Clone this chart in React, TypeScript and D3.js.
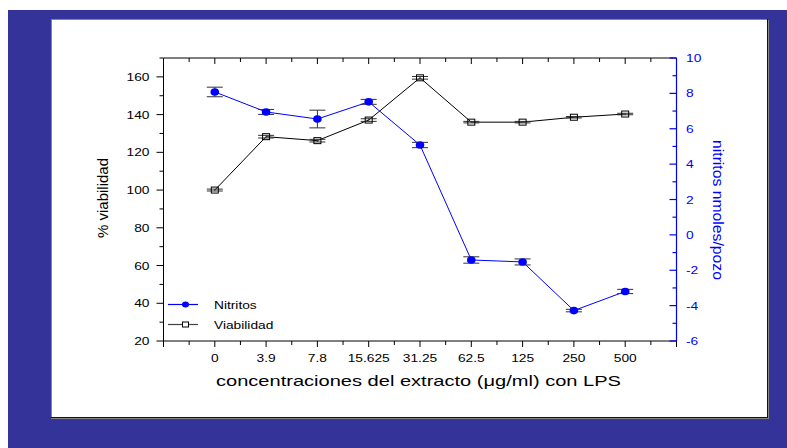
import React from "react";
import * as d3 from "d3";

// concentraciones del extracto (x categories)
const concentraciones = ["0", "3.9", "7.8", "15.625", "31.25", "62.5", "125", "250", "500"];
// % viabilidad (left axis)
const viabilidad = [100, 128.3, 126.2, 137.1, 159.5, 136, 136, 138.6, 140.3];
const viabilidadErr = [0.5, 0.7, 0.7, 0.7, 0.7, 0.4, 0.4, 0.4, 0.4];
// nitritos nmoles/pozo (right axis)
const nitritos = [8.08, 6.95, 6.55, 7.52, 5.08, -1.42, -1.53, -4.28, -3.2];
const nitritosErr = [0.27, 0.14, 0.5, 0.14, 0.15, 0.18, 0.17, 0.07, 0.12];

const leftTicks = [20, 40, 60, 80, 100, 120, 140, 160];
const rightTicks = [-6, -4, -2, 0, 2, 4, 6, 8, 10];

const BLUE = "#0000ff";
const BG = "#333399";
const FONT = "Arial, 'Liberation Sans', sans-serif";

export default function App() {
  const x = d3.scaleLinear().domain([-1, 9]).range([163.5, 676.5]);
  const yL = d3.scaleLinear().domain([20, 170]).range([341, 58]);
  const yR = d3.scaleLinear().domain([-6, 10]).range([341, 58]);
  const [x0, x1] = x.range();
  const [yb, yt] = yL.range();

  const idx = concentraciones.map((_, i) => i);
  const xTicks = d3.range(-1, 9.01, 0.5);
  const lTicks = d3.range(20, 170.01, 10);
  const rTicks = d3.range(-6, 10.01, 1);

  const lineV = d3.line<number>().x((i) => x(i)).y((i) => yL(viabilidad[i]));
  const lineN = d3.line<number>().x((i) => x(i)).y((i) => yR(nitritos[i]));

  const hText = (tx: number, ty: number, s: string, anchor: string, color = "#000", size = 11) => (
    <text
      key={s + tx + ty}
      transform={`translate(${tx},${ty}) scale(1.25,1)`}
      textAnchor={anchor}
      fontSize={size}
      fill={color}
      fontFamily={FONT}
    >
      {s}
    </text>
  );

  const errBar = (cx: number, lo: number, hi: number, k: string) => (
    <g key={k} stroke="#333" strokeWidth={1}>
      <line x1={cx} x2={cx} y1={lo} y2={hi} />
      <line x1={cx - 8} x2={cx + 8} y1={lo} y2={lo} />
      <line x1={cx - 8} x2={cx + 8} y1={hi} y2={hi} />
    </g>
  );

  return (
    <svg
      width={787}
      height={448}
      style={{ position: "absolute", left: 0, top: 0 }}
    >
      <rect x={0} y={0} width={787} height={448} fill="#fff" />
      <rect x={8} y={10} width={779} height={438} fill={BG} />
      <rect x={51} y={19} width={717} height={398} fill="#fff" />
      <line x1={51} x2={768} y1={19.5} y2={19.5} stroke="#888" />
      <line x1={51.5} x2={51.5} y1={19} y2={418} stroke="#888" />
      <line x1={767.5} x2={767.5} y1={19} y2={418} stroke="#111" />
      <line x1={51} x2={768} y1={417.5} y2={417.5} stroke="#111" />
      <line x1={51} x2={769} y1={418.5} y2={418.5} stroke="#888" />
      <line x1={768.5} x2={768.5} y1={20} y2={419} stroke="#888" />

      {/* axes frame */}
      <g stroke="#000" strokeWidth={1}>
        <line x1={x0} x2={x1} y1={yt} y2={yt} />
        <line x1={x0} x2={x1} y1={yb} y2={yb} />
        <line x1={x0} x2={x0} y1={yt} y2={yb} />
        {xTicks.map((t) => {
          const major = Number.isInteger(t);
          return (
            <g key={"xt" + t}>
              <line x1={x(t)} x2={x(t)} y1={yb} y2={yb + (major ? 6 : 4)} />
              <line x1={x(t)} x2={x(t)} y1={yt} y2={yt + (major ? 6 : 4)} />
            </g>
          );
        })}
        {lTicks.map((t) => (
          <line key={"lt" + t} x1={x0 - (t % 20 === 0 ? 7 : 4)} x2={x0} y1={yL(t)} y2={yL(t)} />
        ))}
      </g>
      <g stroke={BLUE} strokeWidth={1.2}>
        <line x1={x1} x2={x1} y1={yt} y2={yb} />
        {rTicks.map((t) => (
          <line key={"rt" + t} x1={x1 - (t % 2 === 0 ? 7 : 4)} x2={x1} y1={yR(t)} y2={yR(t)} />
        ))}
      </g>

      {/* tick labels */}
      {concentraciones.map((c, i) => hText(x(i), 361.5, c, "middle"))}
      {leftTicks.map((t) => hText(149.5, yL(t) + 4, String(t), "end"))}
      {rightTicks.map((t) => hText(686, yR(t) + 4, String(t), "start", BLUE))}

      {/* axis titles */}
      <text
        x={216}
        y={385.5}
        textLength={405}
        lengthAdjust="spacingAndGlyphs"
        fontSize={14.5}
        fontFamily={FONT}
        fill="#000"
      >
        concentraciones del extracto (μg/ml) con LPS
      </text>
      <text
        transform="translate(108,198) rotate(-90)"
        textAnchor="middle"
        fontSize={15}
        textLength={80}
        lengthAdjust="spacingAndGlyphs"
        fontFamily={FONT}
        fill="#000"
      >
        % viabilidad
      </text>
      <text
        transform="translate(713,210) rotate(90)"
        textAnchor="middle"
        fontSize={15}
        textLength={140}
        lengthAdjust="spacingAndGlyphs"
        fontFamily={FONT}
        fill={BLUE}
      >
        nitritos nmoles/pozo
      </text>

      {/* viabilidad series */}
      <path d={lineV(idx) ?? ""} fill="none" stroke="#000" strokeWidth={1} />
      {idx.map((i) =>
        errBar(x(i), yL(viabilidad[i] - viabilidadErr[i]), yL(viabilidad[i] + viabilidadErr[i]), "ev" + i)
      )}
      {idx.map((i) => (
        <rect
          key={"sv" + i}
          x={x(i) - 3.5}
          y={yL(viabilidad[i]) - 3}
          width={7}
          height={6}
          fill="none"
          stroke="#000"
          strokeWidth={1}
        />
      ))}

      {/* nitritos series */}
      <path d={lineN(idx) ?? ""} fill="none" stroke={BLUE} strokeWidth={1} />
      {idx.map((i) =>
        errBar(x(i), yR(nitritos[i] - nitritosErr[i]), yR(nitritos[i] + nitritosErr[i]), "en" + i)
      )}
      {idx.map((i) => (
        <ellipse key={"cn" + i} cx={x(i)} cy={yR(nitritos[i])} rx={4.3} ry={3.8} fill={BLUE} />
      ))}

      {/* legend */}
      <line x1={168} x2={198} y1={304.5} y2={304.5} stroke={BLUE} strokeWidth={1.2} />
      <ellipse cx={185.5} cy={304.5} rx={3.5} ry={3} fill={BLUE} />
      {hText(214, 308.5, "Nitritos", "start")}
      <line x1={168} x2={198} y1={324.5} y2={324.5} stroke="#444" strokeWidth={1.2} />
      <rect x={182.5} y={322} width={6} height={5} fill="#fff" stroke="#000" />
      {hText(214, 328.5, "Viabilidad", "start")}
    </svg>
  );
}
